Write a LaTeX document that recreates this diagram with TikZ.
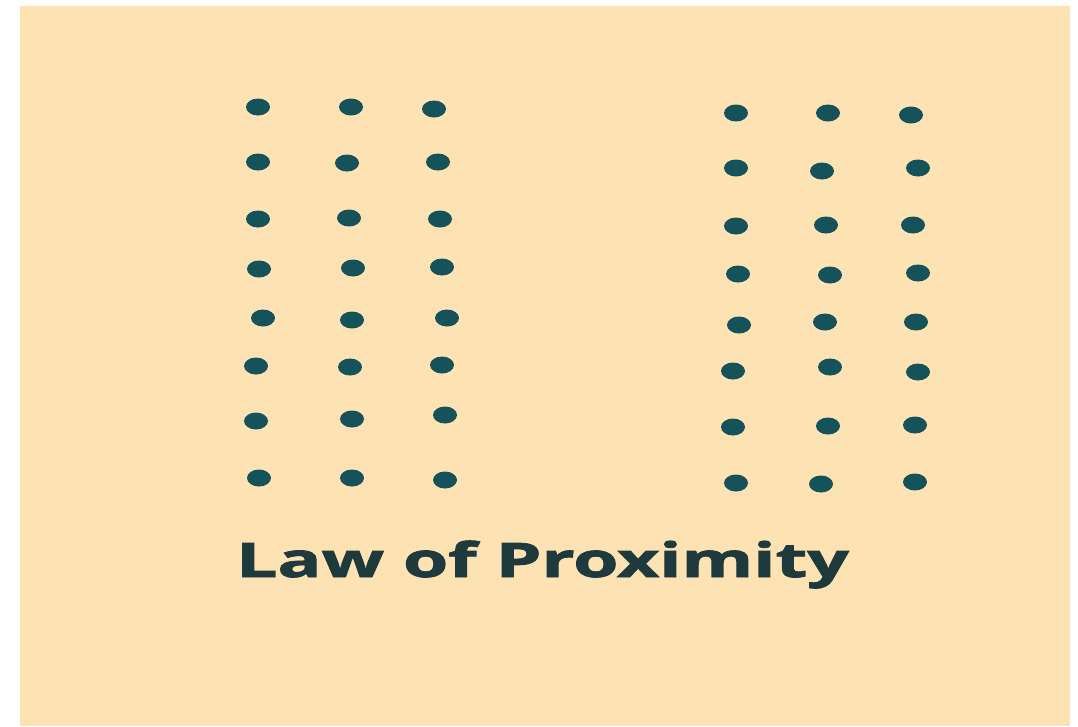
\documentclass[tikz,border=0pt]{standalone}
\usepackage{fontspec}
\setmainfont{Open Sans}
\newfontfamily\titlefont{Open Sans}[BoldFeatures={FakeBold=1.6}]
\usetikzlibrary{shapes.geometric}
\definecolor{bgcream}{RGB}{253,226,179}
\definecolor{dotteal}{RGB}{22,82,90}
\definecolor{txtdark}{RGB}{30,58,60}
\tikzset{
  dotmark/.style={ellipse, fill=dotteal, draw=none, minimum width=24pt, minimum height=17pt, inner sep=0pt},
  titletext/.style={anchor=base west, inner sep=0pt, text=txtdark, font=\titlefont\fontsize{47.6}{50}\selectfont\bfseries}
}
\begin{document}
\begin{tikzpicture}[x=1pt,y=-1pt]
\useasboundingbox (0,0) rectangle (1078,726);
\fill[white] (0,0) rectangle (1078,726);
\fill[bgcream] (20,6) rectangle (1070,726);
% left group
\foreach \x/\y [count=\i] in {
 258/107, 351/107, 434/109,
 258/162, 347/163, 438/162,
 258/219, 349/218, 440/219,
 259/269, 353/268, 442/267,
 263/318, 352/320, 447/318,
 256/366, 350/367, 442/365,
 256/421, 352/419, 445/415,
 259/478, 352/478, 445/480}
 \node[dotmark] (L\i) at (\x,\y) {};
% right group
\foreach \x/\y [count=\i] in {
 736/113, 828/113, 911/115,
 736/168, 822/171, 918/168,
 736/226, 826/225, 913/225,
 738/274, 830/275, 918/273,
 739/325, 825/322, 916/322,
 733/371, 830/367, 918/372,
 733/427, 828/426, 915/425,
 736/483, 821/484, 915/482}
 \node[dotmark] (R\i) at (\x,\y) {};
\node[titletext] (title) at (236,577) {\scalebox{1.535}[1]{Law of Proximity}};
\end{tikzpicture}
\end{document}
